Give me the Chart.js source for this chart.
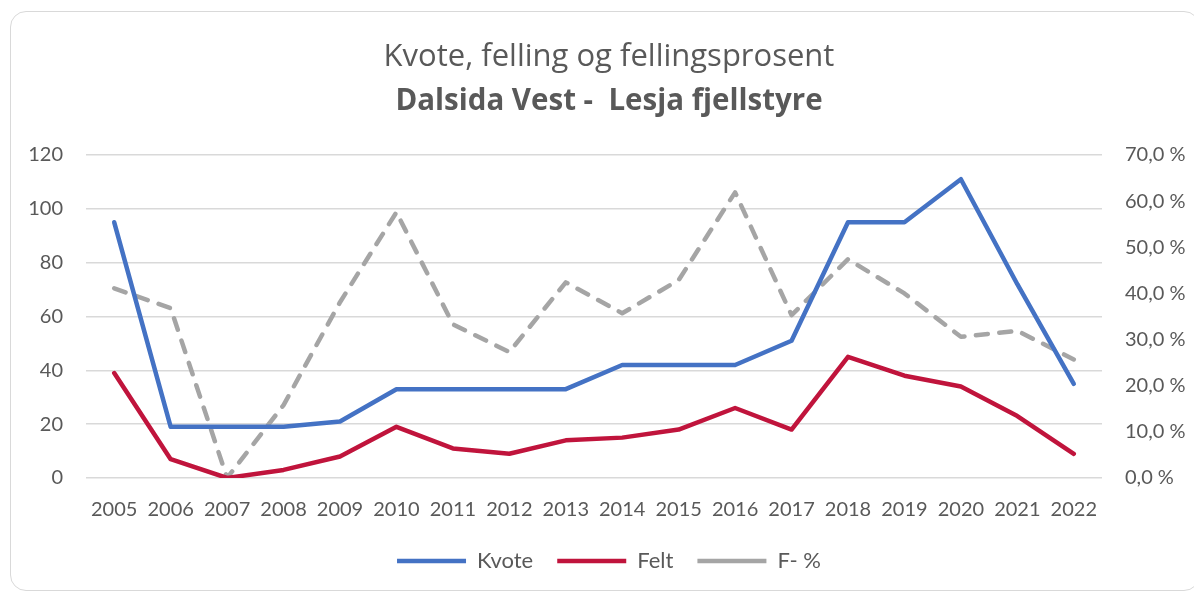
<!DOCTYPE html>
<html>
<head>
<meta charset="utf-8">
<script src="https://cdn.jsdelivr.net/npm/chart.js@4/dist/chart.umd.min.js"></script>
<style>
  html, body { margin: 0; padding: 0; background: #ffffff; }
  body { width: 1194px; height: 592px; position: relative; overflow: hidden; }
  #card { position: absolute; left: 10px; top: 11px; width: 1190px; height: 580px;
          border: 1.5px solid #d9d9d9; border-radius: 16px; box-sizing: border-box; }
  #wrap { position: absolute; left: 0; top: 0; width: 1194px; height: 592px; }
</style>
</head>
<body>
<div id="card"></div>
<div id="wrap"><canvas id="c" width="1194" height="592"></canvas></div>
<script>
const years = ['2005','2006','2007','2008','2009','2010','2011','2012','2013','2014','2015','2016','2017','2018','2019','2020','2021','2022'];
const kvote = [95, 19, 19, 19, 21, 33, 33, 33, 33, 42, 42, 42, 51, 95, 95, 111, 72, 35];
const felt  = [39, 7, 0, 3, 8, 19, 11, 9, 14, 15, 18, 26, 18, 45, 38, 34, 23, 9];
const fProsent = [41.1, 36.8, 0.0, 15.8, 38.1, 57.6, 33.3, 27.3, 42.4, 35.7, 42.9, 61.9, 35.3, 47.4, 40.0, 30.6, 31.9, 25.7];
const leftTicks = [0, 20, 40, 60, 80, 100, 120];
const rightTicks = [0, 10, 20, 30, 40, 50, 60, 70];
const titleText = 'Kvote, felling og fellingsprosent';
const subtitleText = 'Dalsida Vest -  Lesja fjellstyre';

const txt = '#595959';
const grid = '#d9d9d9';
const fontFam = 'Lato, "Open Sans", sans-serif';
const titleFam = '"Open Sans", Lato, sans-serif';

new Chart(document.getElementById('c'), {
  type: 'line',
  data: {
    labels: years,
    datasets: [
      { label: 'Kvote', data: kvote, yAxisID: 'y', borderColor: '#4472C4', backgroundColor: '#4472C4',
        borderWidth: 4.5, borderCapStyle: 'round', borderJoinStyle: 'round', pointRadius: 0, tension: 0 },
      { label: 'Felt', data: felt, yAxisID: 'y', borderColor: '#C0143C', backgroundColor: '#C0143C',
        borderWidth: 4.5, borderCapStyle: 'round', borderJoinStyle: 'round', pointRadius: 0, tension: 0 },
      { label: 'F- %', data: fProsent, yAxisID: 'y1', borderColor: '#A5A5A5', backgroundColor: '#A5A5A5',
        borderWidth: 4.5, borderDash: [12, 11.5], borderCapStyle: 'round', borderJoinStyle: 'round', pointRadius: 0, tension: 0 }
    ]
  },
  options: {
    responsive: false,
    animation: false,
    devicePixelRatio: 1,
    layout: { padding: { left: 24, right: 0, top: 0, bottom: 10 } },
    plugins: {
      title: { display: true, text: titleText, color: txt,
        font: { family: titleFam, size: 31, weight: 'normal', lineHeight: 1.1 },
        padding: { top: 40, bottom: 6 } },
      subtitle: { display: true, text: subtitleText, color: txt,
        font: { family: titleFam, size: 29.5, weight: 'bold', lineHeight: 1.1 },
        padding: { top: 5.7, bottom: 36.75 } },
      legend: { position: 'bottom',
        labels: { color: txt, font: { family: fontFam, size: 22 }, usePointStyle: true, pointStyle: 'line',
          pointStyleWidth: 69, padding: 24 } },
      tooltip: { enabled: false }
    },
    scales: {
      x: {
        offset: true,
        grid: { display: false, drawTicks: false },
        border: { display: false },
        ticks: { color: txt, font: { family: fontFam, size: 20 }, padding: 20, maxRotation: 0, autoSkip: false },
        afterFit: s => { s.height = 48; }
      },
      y: {
        position: 'left', min: 0, max: 120,
        afterBuildTicks: s => { s.ticks = leftTicks.map(v => ({ value: v })); },
        grid: { color: grid, lineWidth: 1.5, drawTicks: false },
        border: { display: false },
        ticks: { color: txt, font: { family: fontFam, size: 20 }, padding: 23 },
        afterFit: s => { s.width = 62; }
      },
      y1: {
        position: 'right', min: 0, max: 70,
        afterBuildTicks: s => { s.ticks = rightTicks.map(v => ({ value: v })); },
        grid: { drawOnChartArea: false, drawTicks: false },
        border: { display: false },
        ticks: { color: txt, font: { family: fontFam, size: 20 }, padding: 23,
          callback: v => v.toFixed(1).replace('.', ',') + ' %' },
        afterFit: s => { s.width = 92; }
      }
    }
  }
});
</script>
</body>
</html>
